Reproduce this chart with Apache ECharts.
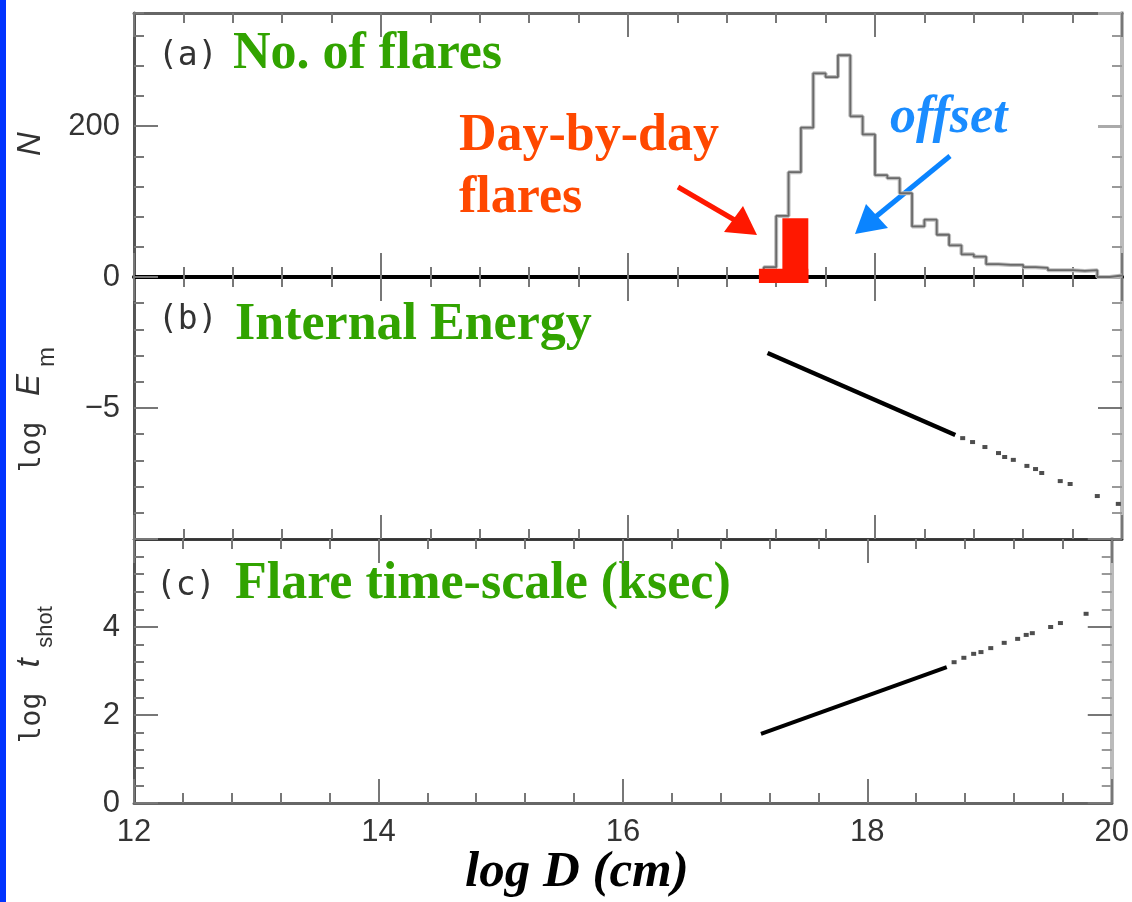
<!DOCTYPE html>
<html><head><meta charset="utf-8">
<script src="https://cdn.jsdelivr.net/npm/echarts@6/dist/echarts.min.js"></script>
<style>html,body{margin:0;padding:0;background:#fff}#c{width:1132px;height:902px}</style>
</head><body><div id="c"></div>
<script>
// ---- data ----
const binStart = [17.1,17.2,17.3,17.4,17.5,17.6,17.7,17.8,17.9,18.0,18.1,18.2,18.3,18.4,18.5,18.6,18.7,18.8,18.9,19.0,19.1,19.2,19.3,19.4,19.5,19.6,19.7,19.8,19.9];
const binEnd = 20.0;
const flareCounts = [13,81,139,198,270,265,294,213,189,135,131,111,67,76,56,42,30,27,17,16,16,13,12,9,9,8,9,0,2];
// day-by-day flares blocks: [D from, D to, N bottom, N top]
const dayBlocks = [[17.06,17.46,-8,11],[17.25,17.46,-8,78]];
// log E_m
const energyLineD = [17.13, 18.65];
const energyLineV = [-2.90, -6.03];
const energyDotsD = [18.71,18.79,18.89,19.00,19.05,19.12,19.23,19.30,19.35,19.50,19.58,19.80,19.97];
const energyDotsV = [-6.15,-6.30,-6.49,-6.72,-6.87,-6.98,-7.21,-7.33,-7.48,-7.79,-7.90,-8.36,-8.66];
// log t_shot
const tshotLineD = [17.13, 18.65];
const tshotLineV = [1.57, 3.09];
const tshotDotsD = [18.71,18.79,18.87,18.93,19.01,19.12,19.23,19.30,19.35,19.50,19.58,19.79];
const tshotDotsV = [3.20,3.30,3.39,3.43,3.52,3.64,3.73,3.82,3.86,4.00,4.09,4.30];
// tick labels
const xTickLabels = ['12','14','16','18','20'];
const nTickLabels = ['0','200'];
const eTickLabels = ['−5'];
const tTickLabels = ['0','2','4'];

// ---- build ----
const histData = [[binStart[0], 0]];
binStart.forEach((d, i) => histData.push([d, flareCounts[i]]));
histData.push([binEnd, flareCounts[flareCounts.length - 1]]);
const zip = (a, b) => a.map((v, i) => [v, b[i]]);

const chart = echarts.init(document.getElementById('c'), null, {renderer: 'canvas'});
const G = {left: 134, right: 10};
const labelFont = {fontFamily: '"Liberation Sans", Arial, sans-serif', fontSize: 31, color: '#333'};
const tickStyle = {color: '#777', width: 2};

function xAx(grid, pos, opts) {
  return Object.assign({
    gridIndex: grid, type: 'value', position: pos, min: 12, max: 20, interval: 2,
    axisLine: {show: true, onZero: false, lineStyle: {color: '#666', width: 3}},
    axisTick: {show: true, inside: true, length: 24, lineStyle: tickStyle},
    minorTick: {show: true, splitNumber: 5, length: 10, lineStyle: tickStyle},
    axisLabel: {show: false},
    splitLine: {show: false}
  }, opts || {});
}
function yAx(grid, pos, min, max, interval, opts) {
  return Object.assign({
    gridIndex: grid, type: 'value', position: pos, min: min, max: max, interval: interval,
    axisLine: {show: true, onZero: false, lineStyle: pos === 'left' ? {color: '#555', width: 3} : {color: '#bbb', width: 4}},
    axisTick: {show: true, inside: true, length: 24, lineStyle: tickStyle},
    minorTick: {show: false},
    axisLabel: {show: false},
    splitLine: {show: false}
  }, opts || {});
}

const option = {
  animation: false,
  backgroundColor: '#fff',
  grid: [
    {left: G.left, right: G.right, top: 13, height: 264},   // a (minor ticks)
    {left: G.left, right: G.right, top: 13, height: 264},   // a (major ticks overlay)
    {left: G.left, right: G.right, top: 277, height: 262},  // b
    {left: G.left, right: G.right, top: 539, height: 264}   // c
  ],
  xAxis: [
    xAx(0, 'bottom', {axisLine: {show: true, onZero: false, lineStyle: {color: '#000', width: 4}}}),
    xAx(0, 'top', {axisLine: {show: true, onZero: false, lineStyle: {color: '#666', width: 3}}}),
    xAx(1, 'bottom', {show: false}),
    xAx(2, 'bottom', {axisLine: {show: true, onZero: false, lineStyle: {color: '#333', width: 2.5}}}),
    xAx(2, 'top', {axisLine: {show: false, onZero: false}}),
    xAx(3, 'bottom', {
      axisLine: {show: true, onZero: false, lineStyle: {color: '#666', width: 3}},
      axisLabel: Object.assign({show: true, margin: 14, formatter: v => xTickLabels.includes(String(v)) ? String(v) : ''}, labelFont)
    }),
    xAx(3, 'top', {axisLine: {show: true, onZero: false, lineStyle: {color: '#333', width: 2.5}}})
  ],
  yAxis: [
    // grid a minor
    yAx(0, 'left', 0, 350, 40, {axisTick: {show: true, inside: true, length: 10, lineStyle: tickStyle}}),
    yAx(0, 'right', 0, 350, 40, {axisTick: {show: true, inside: true, length: 10, lineStyle: {color: '#999', width: 2}}}),
    // grid a major
    yAx(1, 'left', 0, 350, 200, {axisLine: {show: false},
      axisLabel: Object.assign({show: true, margin: 14, showMaxLabel: false, formatter: v => nTickLabels.includes(String(v)) ? String(v) : ''}, labelFont)}),
    yAx(1, 'right', 0, 350, 200, {axisLine: {show: false}, axisTick: {show: true, inside: true, length: 24, lineStyle: {color: '#aaa', width: 3}}}),
    // grid b
    yAx(2, 'left', -10, 0, 5, {minorTick: {show: true, splitNumber: 5, length: 10, lineStyle: tickStyle},
      axisLabel: Object.assign({show: true, margin: 14, formatter: v => v === -5 ? eTickLabels[0] : ''}, labelFont)}),
    yAx(2, 'right', -10, 0, 5, {minorTick: {show: true, splitNumber: 5, length: 10, lineStyle: {color: '#999', width: 2}}}),
    // grid c
    yAx(3, 'left', 0, 6, 2, {minorTick: {show: true, splitNumber: 5, length: 10, lineStyle: tickStyle},
      axisLabel: Object.assign({show: true, margin: 14, showMaxLabel: false, formatter: v => tTickLabels.includes(String(v)) ? String(v) : ''}, labelFont)}),
    yAx(3, 'right', 0, 6, 2, {minorTick: {show: true, splitNumber: 5, length: 10, lineStyle: {color: '#999', width: 2}}})
  ],
  series: [
    {type: 'line', xAxisIndex: 0, yAxisIndex: 0, step: 'end', data: histData, symbol: 'none',
     lineStyle: {color: '#bdbdbd', width: 4}, z: 3},
    {type: 'line', xAxisIndex: 0, yAxisIndex: 0, step: 'end', data: histData, symbol: 'none',
     lineStyle: {color: '#6a6a6a', width: 1.8}, z: 4},
    {type: 'custom', xAxisIndex: 0, yAxisIndex: 0, clip: false, z: 5,
     data: dayBlocks,
     renderItem: function (params, api) {
       const p0 = api.coord([api.value(0), api.value(3)]);
       const p1 = api.coord([api.value(1), api.value(2)]);
       return {type: 'rect', shape: {x: p0[0], y: p0[1], width: p1[0] - p0[0], height: p1[1] - p0[1]},
               style: {fill: '#ff1800'}};
     }},
    {type: 'line', xAxisIndex: 3, yAxisIndex: 4, data: zip(energyLineD, energyLineV), symbol: 'none',
     lineStyle: {color: '#000', width: 4.5}},
    {type: 'scatter', xAxisIndex: 3, yAxisIndex: 4, data: zip(energyDotsD, energyDotsV), symbol: 'rect', symbolSize: [5, 4],
     itemStyle: {color: '#222'}},
    {type: 'line', xAxisIndex: 5, yAxisIndex: 6, data: zip(tshotLineD, tshotLineV), symbol: 'none',
     lineStyle: {color: '#000', width: 4}},
    {type: 'scatter', xAxisIndex: 5, yAxisIndex: 6, data: zip(tshotDotsD, tshotDotsV), symbol: 'rect', symbolSize: [5, 4],
     itemStyle: {color: '#222'}}
  ],
  graphic: [
    {type: 'rect', shape: {x: 0, y: 0, width: 6, height: 902}, style: {fill: '#0033ff'}},
    // panel titles
    {type: 'text', x: 158, y: 56, style: {text: '(a)', font: '33px "DejaVu Sans Mono", monospace', fill: '#333', verticalAlign: 'middle'}},
    {type: 'text', x: 233, y: 55, style: {text: 'No. of flares', font: 'bold 52px "Liberation Serif", serif', fill: '#31a300', verticalAlign: 'middle'}},
    {type: 'text', x: 158, y: 320, style: {text: '(b)', font: '33px "DejaVu Sans Mono", monospace', fill: '#333', verticalAlign: 'middle'}},
    {type: 'text', x: 235, y: 326, style: {text: 'Internal Energy', font: 'bold 52px "Liberation Serif", serif', fill: '#31a300', verticalAlign: 'middle'}},
    {type: 'text', x: 156, y: 586, style: {text: '(c)', font: '33px "DejaVu Sans Mono", monospace', fill: '#333', verticalAlign: 'middle'}},
    {type: 'text', x: 235, y: 585, style: {text: 'Flare time-scale (ksec)', font: 'bold 52px "Liberation Serif", serif', fill: '#31a300', verticalAlign: 'middle'}},
    // annotations
    {type: 'text', x: 459, y: 137, style: {text: 'Day-by-day', font: 'bold 52px "Liberation Serif", serif', fill: '#ff4800', verticalAlign: 'middle'}},
    {type: 'text', x: 459, y: 199, style: {text: 'flares', font: 'bold 52px "Liberation Serif", serif', fill: '#ff4800', verticalAlign: 'middle'}},
    {type: 'line', shape: {x1: 678, y1: 187, x2: 738, y2: 222}, style: {stroke: '#ff1800', lineWidth: 5}},
    {type: 'polygon', shape: {points: [[757, 235], [724, 232], [743, 206]]}, style: {fill: '#ff1800'}},
    {type: 'text', x: 890, y: 119, style: {text: 'offset', font: 'italic bold 52px "Liberation Serif", serif', fill: '#1a8cff', verticalAlign: 'middle'}},
    {type: 'line', shape: {x1: 950, y1: 156, x2: 873, y2: 219}, style: {stroke: '#0a84ff', lineWidth: 5}},
    {type: 'polygon', shape: {points: [[855, 234], [866, 204], [888, 228]]}, style: {fill: '#0a84ff'}},
    // axis names
    {type: 'text', x: 31, y: 144, rotation: Math.PI / 2, style: {text: 'N', font: 'italic 33px "Liberation Sans", sans-serif', fill: '#333', align: 'center', verticalAlign: 'middle'}},
    {type: 'text', x: 33, y: 447, rotation: Math.PI / 2, style: {text: 'log', font: '28px "DejaVu Sans Mono", monospace', fill: '#333', align: 'center', verticalAlign: 'middle'}},
    {type: 'text', x: 30, y: 385, rotation: Math.PI / 2, style: {text: 'E', font: 'italic 33px "Liberation Sans", sans-serif', fill: '#333', align: 'center', verticalAlign: 'middle'}},
    {type: 'text', x: 47, y: 357, rotation: Math.PI / 2, style: {text: 'm', font: '24px "Liberation Sans", sans-serif', fill: '#333', align: 'center', verticalAlign: 'middle'}},
    {type: 'text', x: 33, y: 718, rotation: Math.PI / 2, style: {text: 'log', font: '28px "DejaVu Sans Mono", monospace', fill: '#333', align: 'center', verticalAlign: 'middle'}},
    {type: 'text', x: 30, y: 663, rotation: Math.PI / 2, style: {text: 't', font: 'italic 33px "Liberation Sans", sans-serif', fill: '#333', align: 'center', verticalAlign: 'middle'}},
    {type: 'text', x: 46, y: 627, rotation: Math.PI / 2, style: {text: 'shot', font: '22px "Liberation Sans", sans-serif', fill: '#333', align: 'center', verticalAlign: 'middle'}},
    {type: 'text', x: 465, y: 873, style: {text: 'log D (cm)', font: 'italic bold 51px "Liberation Serif", serif', fill: '#000', verticalAlign: 'middle'}}
  ]
};
chart.setOption(option);
</script>
</body></html>
